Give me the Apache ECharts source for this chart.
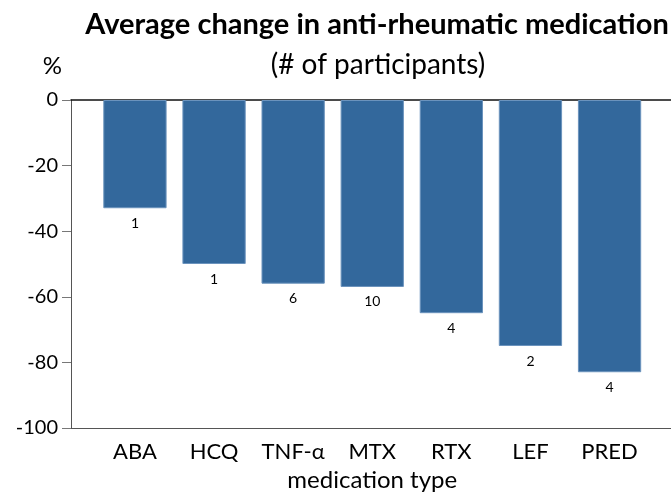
<!DOCTYPE html>
<html>
<head>
<meta charset="utf-8">
<script src="https://cdn.jsdelivr.net/npm/echarts@6/dist/echarts.min.js"></script>
<style>
  html, body { margin: 0; padding: 0; background: #fff; }
  #chart { width: 671px; height: 499px; }
</style>
</head>
<body>
<div id="chart"></div>
<script>
const medications = ['ABA', 'HCQ', 'TNF-α', 'MTX', 'RTX', 'LEF', 'PRED'];
const avgChange = [-33, -50, -56, -57, -65, -75, -83];
const participants = [1, 1, 6, 10, 4, 2, 4];
const yTicks = [0, -20, -40, -60, -80, -100];

const FONT = 'Lato, "Open Sans", sans-serif';
const BAR_COLOR = '#33689c';

const chart = echarts.init(document.getElementById('chart'));

const option = {
  animation: false,
  textStyle: { fontFamily: FONT },
  title: [
    {
      text: 'Average change in anti-rheumatic medication',
      left: 372,
      top: 5,
      textAlign: 'center',
      textStyle: { fontFamily: FONT, fontSize: 29, fontWeight: 'bold', color: '#000' }
    },
    {
      text: '(# of participants)',
      left: 373,
      top: 46,
      textAlign: 'center',
      textStyle: { fontFamily: FONT, fontSize: 28, fontWeight: 'normal', color: '#000' }
    }
  ],
  grid: [
    // frame: y axis plus the lines at 0 and -100
    { left: 71, right: -2, top: 100, bottom: 71 },
    // bars and category labels
    { left: 95.4, width: 553.7, top: 100, bottom: 71 }
  ],
  xAxis: [
    {
      gridIndex: 0, type: 'value', position: 'top', min: 0, max: 1,
      axisLine: { show: true, lineStyle: { color: '#111', width: 1.5 } },
      axisTick: { show: false }, axisLabel: { show: false }, splitLine: { show: false }
    },
    {
      gridIndex: 0, type: 'value', position: 'bottom', min: 0, max: 1,
      axisLine: { show: true, lineStyle: { color: '#555', width: 1 } },
      axisTick: { show: false }, axisLabel: { show: false }, splitLine: { show: false }
    },
    {
      gridIndex: 1, type: 'category', position: 'bottom', data: medications,
      axisLine: { show: false },
      axisTick: { show: true, alignWithLabel: true, interval: 0, length: 8, lineStyle: { color: '#555' } },
      axisLabel: { fontSize: 22, color: '#000', margin: 13, interval: 0, hideOverlap: false, fontFamily: FONT },
      name: 'medication type',
      nameLocation: 'middle',
      nameGap: 40,
      nameTextStyle: { fontSize: 24, color: '#000', fontFamily: FONT }
    }
  ],
  yAxis: [
    {
      gridIndex: 0, type: 'value', min: -100, max: 0, interval: 20,
      axisLine: { show: true, lineStyle: { color: '#555', width: 1 } },
      axisTick: { show: true, length: 9, lineStyle: { color: '#777' } },
      axisLabel: {
        fontSize: 20, color: '#000', margin: 13, fontFamily: FONT,
        formatter: (v) => (yTicks.includes(v) ? String(v) : '')
      },
      splitLine: { show: false },
      name: '%',
      nameLocation: 'end',
      nameGap: 22,
      nameTextStyle: { fontSize: 24, color: '#000', align: 'right', padding: [0, 9, 0, 0], fontFamily: FONT }
    },
    {
      gridIndex: 1, type: 'value', min: -100, max: 0,
      show: false
    }
  ],
  series: [
    {
      type: 'bar',
      xAxisIndex: 2,
      yAxisIndex: 1,
      data: avgChange,
      barWidth: '80%',
      itemStyle: { color: BAR_COLOR, borderColor: '#6b93bd', borderWidth: 1 },
      label: {
        show: true,
        position: 'bottom',
        distance: 8,
        fontSize: 14,
        color: '#000',
        fontFamily: FONT,
        formatter: (p) => String(participants[p.dataIndex])
      }
    }
  ]
};

chart.setOption(option);
</script>
</body>
</html>
